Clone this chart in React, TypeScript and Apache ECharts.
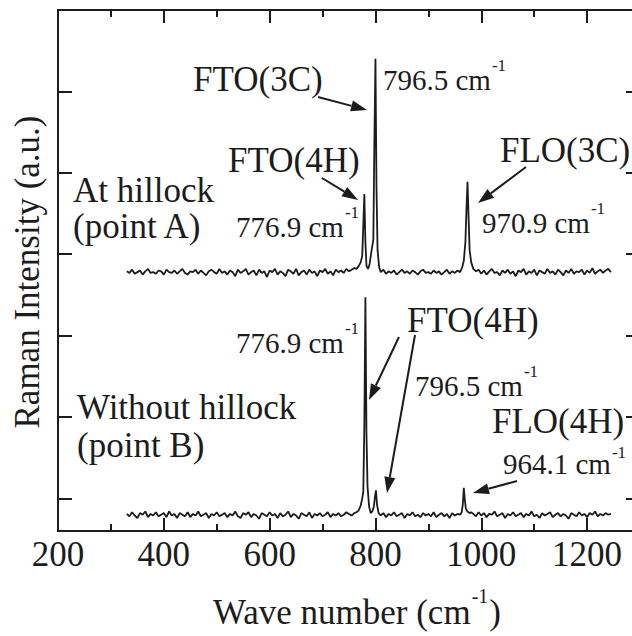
import React, { useEffect, useRef } from "react";
import * as echarts from "echarts";

// Spectra are sampled every 5 cm^-1 in flat stretches; peaks are listed point by point.
const SAMPLE_STEP = 5;

// ---- Spectrum A: at hillock (point A) ----
const baseA1Start = 330; // 330 … 760
const baseA1 = [
  3.19, 3.17, 3.21, 3.16, 3.18, 3.2, 3.15, 3.19, 3.22, 3.17,
  3.18, 3.16, 3.2, 3.19, 3.15, 3.21, 3.18, 3.17, 3.2, 3.16,
  3.19, 3.22, 3.17, 3.15, 3.19, 3.18, 3.21, 3.16, 3.2, 3.17,
  3.14, 3.19, 3.21, 3.18, 3.16, 3.22, 3.17, 3.19, 3.15, 3.2,
  3.18, 3.13, 3.21, 3.17, 3.19, 3.22, 3.15, 3.18, 3.2, 3.14,
  3.21, 3.17, 3.19, 3.12, 3.2, 3.18, 3.22, 3.15, 3.19, 3.17,
  3.13, 3.21, 3.19, 3.16, 3.22, 3.14, 3.18, 3.2, 3.15, 3.21,
  3.17, 3.19, 3.13, 3.2, 3.18, 3.22, 3.16, 3.19, 3.14, 3.21,
  3.18, 3.2, 3.17, 3.22, 3.19, 3.21, 3.23,
];
const peakA1Wave = [764, 768, 772, 775, 777, 779, 781, 783, 786, 789, 792, 794, 796, 798, 800, 802, 804, 807];
const peakA1Int = [3.22, 3.25, 3.3, 3.38, 3.75, 4.14, 3.55, 3.26, 3.22, 3.28, 3.42, 3.5, 3.58, 4.8, 5.8, 4.2, 3.45, 3.24];
const baseA2Start = 810; // 810 … 960
const baseA2 = [
  3.18, 3.21, 3.16, 3.19, 3.17, 3.2, 3.15, 3.18, 3.21, 3.17,
  3.19, 3.16, 3.2, 3.18, 3.15, 3.19, 3.21, 3.17, 3.18, 3.16,
  3.2, 3.17, 3.19, 3.15, 3.18, 3.21, 3.16, 3.19, 3.17, 3.2, 3.18,
];
const peakA2Wave = [964, 967, 970, 972, 974, 976, 978, 981];
const peakA2Int = [3.24, 3.32, 3.55, 3.95, 4.29, 3.85, 3.45, 3.3];
const baseA3Start = 985; // 985 … 1245
const baseA3 = [
  3.22, 3.19, 3.21, 3.16, 3.2, 3.15, 3.19, 3.22, 3.17, 3.18,
  3.14, 3.2, 3.17, 3.21, 3.16, 3.19, 3.13, 3.2, 3.18, 3.22,
  3.15, 3.19, 3.17, 3.21, 3.14, 3.2, 3.18, 3.16, 3.22, 3.17,
  3.19, 3.15, 3.21, 3.18, 3.14, 3.2, 3.17, 3.22, 3.16, 3.19,
  3.18, 3.21, 3.15, 3.2, 3.17, 3.23, 3.16, 3.19, 3.21, 3.17,
  3.2, 3.22, 3.18,
];

// ---- Spectrum B: without hillock (point B) ----
const baseB1Start = 330; // 330 … 760
const baseB1 = [
  0.21, 0.18, 0.23, 0.19, 0.16, 0.22, 0.2, 0.24, 0.17, 0.21,
  0.19, 0.23, 0.18, 0.2, 0.22, 0.17, 0.24, 0.19, 0.21, 0.16,
  0.22, 0.2, 0.18, 0.23, 0.17, 0.21, 0.19, 0.24, 0.18, 0.2,
  0.22, 0.16, 0.21, 0.19, 0.23, 0.18, 0.2, 0.22, 0.17, 0.21,
  0.19, 0.24, 0.18, 0.16, 0.22, 0.2, 0.23, 0.17, 0.21, 0.19,
  0.15, 0.22, 0.2, 0.18, 0.23, 0.19, 0.21, 0.16, 0.22, 0.18,
  0.2, 0.24, 0.17, 0.21, 0.19, 0.15, 0.22, 0.2, 0.18, 0.23,
  0.16, 0.21, 0.19, 0.22, 0.18, 0.2, 0.23, 0.17, 0.21, 0.19,
  0.22, 0.18, 0.2, 0.23, 0.21, 0.19, 0.22,
];
const peakB1Wave = [764, 768, 772, 775, 777, 779, 781, 783, 785, 788, 791, 794, 797, 799, 801, 803, 806];
const peakB1Int = [0.23, 0.25, 0.31, 0.4, 0.48, 1.3, 2.87, 1.2, 0.55, 0.3, 0.22, 0.24, 0.3, 0.42, 0.5, 0.32, 0.22];
const baseB2Start = 810; // 810 … 960
const baseB2 = [
  0.19, 0.22, 0.17, 0.21, 0.19, 0.23, 0.18, 0.2, 0.22, 0.16,
  0.21, 0.19, 0.23, 0.18, 0.2, 0.17, 0.22, 0.19, 0.21, 0.18,
  0.23, 0.17, 0.2, 0.22, 0.18, 0.21, 0.16, 0.22, 0.19, 0.21, 0.2,
];
const peakB2Wave = [963, 965, 967, 969, 971, 974, 978, 981];
const peakB2Int = [0.23, 0.32, 0.53, 0.38, 0.27, 0.24, 0.22, 0.23];
const baseB3Start = 985; // 985 … 1245
const baseB3 = [
  0.21, 0.18, 0.23, 0.19, 0.22, 0.17, 0.21, 0.2, 0.24, 0.18,
  0.2, 0.22, 0.16, 0.21, 0.19, 0.23, 0.18, 0.2, 0.22, 0.17,
  0.21, 0.19, 0.24, 0.18, 0.2, 0.16, 0.22, 0.19, 0.21, 0.23,
  0.17, 0.2, 0.22, 0.18, 0.21, 0.19, 0.15, 0.22, 0.2, 0.18,
  0.23, 0.19, 0.21, 0.17, 0.22, 0.2, 0.24, 0.18, 0.21, 0.19,
  0.22, 0.2, 0.21,
];

const xMajorTicks = [200, 400, 600, 800, 1000, 1200];
const xMinorTicks = [300, 500, 700, 900, 1100];
const yTicks = [0.4, 1.4, 2.4, 3.4, 4.4, 5.4];

const INK = "#1c1c1c";
const SERIF = "Liberation Serif";

function sampled(start: number, values: number[]) {
  return values.map((v, i) => [start + i * SAMPLE_STEP, v]);
}
function paired(waves: number[], values: number[]) {
  return waves.map((w, i) => [w, values[i]]);
}

const dataA = [
  ...sampled(baseA1Start, baseA1),
  ...paired(peakA1Wave, peakA1Int),
  ...sampled(baseA2Start, baseA2),
  ...paired(peakA2Wave, peakA2Int),
  ...sampled(baseA3Start, baseA3),
];
const dataB = [
  ...sampled(baseB1Start, baseB1),
  ...paired(peakB1Wave, peakB1Int),
  ...sampled(baseB2Start, baseB2),
  ...paired(peakB2Wave, peakB2Int),
  ...sampled(baseB3Start, baseB3),
];

let measureCtx: CanvasRenderingContext2D | null = null;
function measure(text: string, size: number) {
  if (!measureCtx) measureCtx = document.createElement("canvas").getContext("2d");
  if (!measureCtx) return text.length * size * 0.5;
  measureCtx.font = `${size}px "${SERIF}"`;
  return measureCtx.measureText(text).width;
}

function arrow(x1: number, y1: number, x2: number, y2: number) {
  const ang = Math.atan2(y2 - y1, x2 - x1);
  const L = 16;
  const W = 5.5;
  const bx = x2 - L * Math.cos(ang);
  const by = y2 - L * Math.sin(ang);
  const px = -Math.sin(ang) * W;
  const py = Math.cos(ang) * W;
  return [
    { type: "line", silent: true, shape: { x1, y1, x2: bx, y2: by }, style: { stroke: INK, lineWidth: 2 } },
    {
      type: "polygon",
      silent: true,
      shape: { points: [[x2, y2], [bx + px, by + py], [bx - px, by - py]] },
      style: { fill: INK },
    },
  ];
}

function txt(text: string, x: number, y: number, size: number, align = "left", rotation = 0) {
  return {
    type: "text",
    silent: true,
    x,
    y,
    rotation,
    style: {
      text,
      fontSize: size,
      fontFamily: SERIF,
      fill: INK,
      textAlign: align,
      textVerticalAlign: "middle",
    },
  };
}

const NAME = 35;
const SUP = 17;

export default function App() {
  const ref = useRef<HTMLDivElement>(null);
  useEffect(() => {
    if (!ref.current) return;
    const chart = echarts.init(ref.current, null, { renderer: "svg" });

    // value labels: size chosen so "796.5 cm" spans ~108 px as in the reference
    const rawW = measure("796.5 cm", 29);
    const VAL = Math.max(26, Math.min(34, (29 * 108) / rawW));
    // value label with superscript "-1" placed right after "cm"
    const valueLabel = (text: string, x: number, y: number, supRise = 15) => {
      const w = measure(text, VAL);
      return [txt(text, x, y, VAL), txt("-1", x + w + 1, y - supRise, SUP)];
    };
    const titleMain = "Wave number (cm";
    const tW = measure(titleMain, 35);
    const supW = measure("-1", 20);

    const axisLine = { show: true, onZero: false, lineStyle: { color: INK, width: 2 } };
    const noLine = { show: false, onZero: false };
    const xBase = { type: "value", min: 200, max: 1300, splitLine: { show: false } };
    const yBase = { type: "value", min: 0, max: 6.4, splitLine: { show: false }, axisLabel: { show: false } };
    const tickStyle = { color: INK, width: 2 };
    chart.setOption({
      animation: false,
      backgroundColor: "#ffffff",
      grid: {
        left: 58,
        right: -8,
        top: 10,
        bottom: 105,
        containLabel: false,
        outerBoundsMode: "none",
        show: true,
        borderColor: INK,
        borderWidth: 2,
        backgroundColor: "transparent",
      },
      xAxis: [
        {
          ...xBase,
          position: "bottom",
          axisLine,
          axisTick: { inside: true, length: 13, customValues: xMajorTicks, lineStyle: tickStyle },
          axisLabel: {
            customValues: xMajorTicks,
            formatter: (v: number) => String(v),
            fontSize: 35,
            fontFamily: SERIF,
            color: INK,
            margin: 6,
          },
        },
        {
          ...xBase,
          position: "top",
          axisLine,
          axisTick: { inside: true, length: 13, customValues: xMajorTicks, lineStyle: tickStyle },
          axisLabel: { show: false },
        },
        {
          ...xBase,
          position: "bottom",
          axisLine: noLine,
          axisTick: { inside: true, length: 7, customValues: xMinorTicks, lineStyle: tickStyle },
          axisLabel: { show: false },
        },
        {
          ...xBase,
          position: "top",
          axisLine: noLine,
          axisTick: { inside: true, length: 7, customValues: xMinorTicks, lineStyle: tickStyle },
          axisLabel: { show: false },
        },
      ],
      yAxis: [
        {
          ...yBase,
          position: "left",
          axisLine,
          axisTick: { inside: true, length: 14, customValues: yTicks, lineStyle: tickStyle },
        },
        {
          ...yBase,
          position: "right",
          axisLine,
          axisTick: { inside: true, length: 14, customValues: yTicks, lineStyle: tickStyle },
        },
      ],
      series: [
        {
          name: "At hillock (point A)",
          type: "line",
          xAxisIndex: 0,
          yAxisIndex: 0,
          showSymbol: false,
          data: dataA,
          lineStyle: { color: INK, width: 1.8 },
          itemStyle: { color: INK },
        },
        {
          name: "Without hillock (point B)",
          type: "line",
          xAxisIndex: 0,
          yAxisIndex: 0,
          showSymbol: false,
          data: dataB,
          lineStyle: { color: INK, width: 1.8 },
          itemStyle: { color: INK },
        },
      ],
      graphic: [
        // y-axis title
        txt("Raman Intensity (a.u.)", 27, 272, 35, "center", Math.PI / 2),
        // upper spectrum annotations
        txt("FTO(3C)", 193, 79, NAME),
        ...arrow(318, 97, 367, 110),
        ...valueLabel("796.5 cm", 383, 80),
        txt("FTO(4H)", 228, 160, NAME),
        ...arrow(322, 178, 358, 200),
        ...valueLabel("776.9 cm", 236, 227),
        txt("At hillock", 73, 190, NAME),
        txt("(point A)", 73, 226, NAME),
        txt("FLO(3C)", 500, 150, NAME),
        ...arrow(526, 167, 478, 203),
        ...valueLabel("970.9 cm", 482, 223),
        // lower spectrum annotations
        ...valueLabel("776.9 cm", 236, 343),
        txt("FTO(4H)", 407, 320, NAME),
        ...arrow(399, 337, 369, 400),
        ...arrow(415, 335, 387, 493),
        ...valueLabel("796.5 cm", 415, 386),
        txt("Without hillock", 77, 407, NAME),
        txt("(point B)", 77, 445, NAME),
        txt("FLO(4H)", 492, 421, NAME),
        ...valueLabel("964.1 cm", 503, 464, 12),
        ...arrow(517, 481, 473, 493),
        // x-axis title
        txt(titleMain, 213, 612, 35),
        txt("-1", 213 + tW + 1, 596, 20),
        txt(")", 213 + tW + supW + 2, 612, 35),
      ],
    });
    return () => chart.dispose();
  }, []);
  return (
    <div
      ref={ref}
      style={{ position: "fixed", left: 0, top: 0, width: 632, height: 636, background: "#fff" }}
    />
  );
}
